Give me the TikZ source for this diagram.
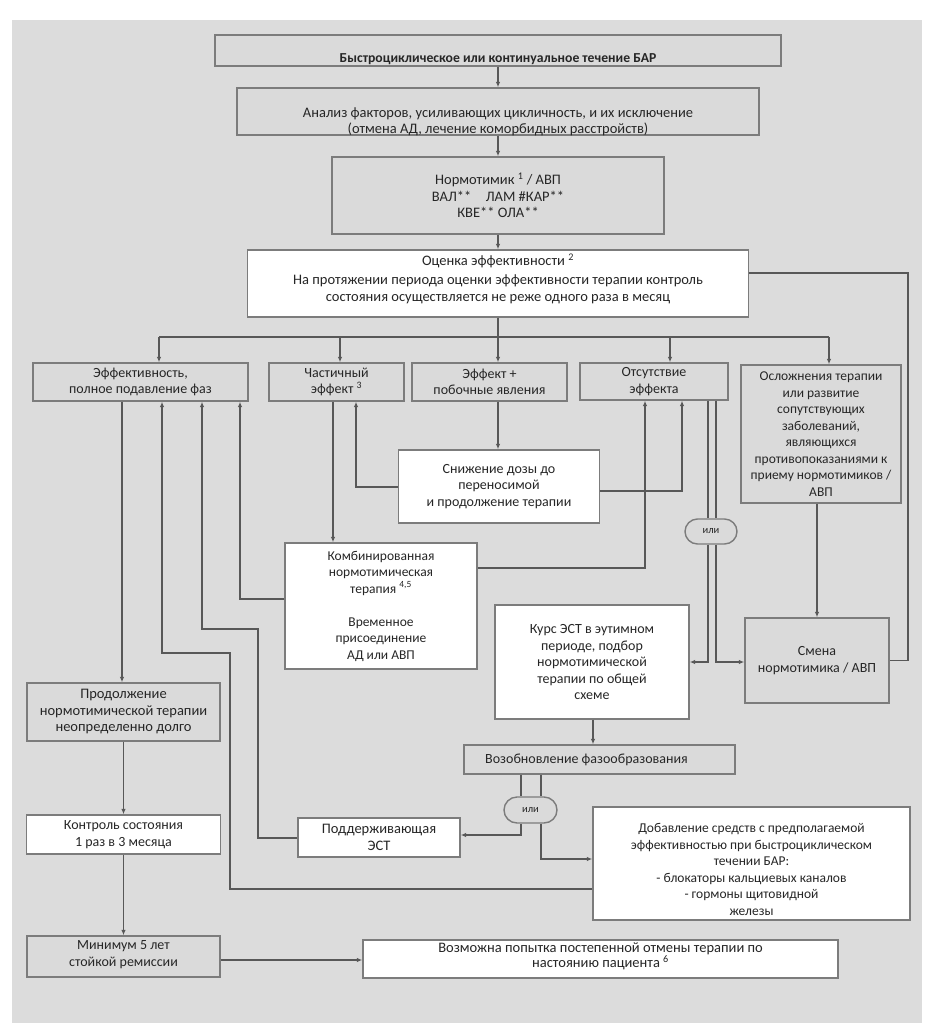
\documentclass[tikz,border=0pt]{standalone}
\usepackage{fontspec}
\setmainfont{Carlito}
\usetikzlibrary{arrows.meta,shapes.misc}
\definecolor{bgc}{HTML}{DCDCDC}
\definecolor{boxg}{HTML}{DADADA}
\definecolor{bordc}{HTML}{7C7C7C}
\definecolor{linec}{HTML}{585858}
\definecolor{txtc}{HTML}{262626}
\newcommand\mainfs{\fontsize{14}{16.5}\selectfont}
\newcommand\bigfs{\fontsize{14.5}{16.5}\selectfont}
\newcommand\smfs{\fontsize{13.5}{16.5}\selectfont}
\newcommand\TopStr[1]{\rule{0pt}{#1pt}}
\newcommand\BotStr[1]{\rule[-#1pt]{0pt}{#1pt}}
\tikzset{
  basebox/.style={draw=bordc, line width=1.4pt, align=center, inner sep=0pt, font=\mainfs, text=txtc},
  gbox/.style={basebox, fill=boxg},
  wbox/.style={basebox, fill=white},
  ovalbox/.style={rounded rectangle, draw=bordc, fill=boxg, line width=1.4pt, inner sep=0pt, font=\fontsize{10.5}{12}\selectfont, text=txtc},
  conn/.style={draw=linec, line width=1.1pt},
  arr/.style={conn, -{Latex[length=5.5pt,width=4.5pt]}},
}
\begin{document}
\begin{tikzpicture}[x=1pt,y=-1pt]
\useasboundingbox (0,0) rectangle (934,1028);
\fill[white] (0,0) rectangle (934,1028);
\fill[bgc] (12,20) rectangle (922,1023);

% top chain
\node[gbox, minimum width=566pt, minimum height=31pt, font=\fontsize{13.7}{16.5}\selectfont\bfseries] (b1) at (498,50.5)
  {\TopStr{23.8}\smash{Быстроциклическое или континуальное течение БАР}};
\node[gbox, minimum width=522pt, minimum height=47pt, font=\bigfs] (b2) at (498,111.5)
  {\TopStr{28.3}Анализ факторов, усиливающих цикличность, и их исключение\\\smash{(отмена АД, лечение коморбидных расстройств)}};
\node[gbox, minimum width=332pt, minimum height=77pt, font=\bigfs] (b3) at (498,195.5)
  {Нормотимик \textsuperscript{1} / АВП\\ВАЛ**\quad ЛАМ \#КАР**\\КВЕ** ОЛА**};
\node[wbox, minimum width=501pt, minimum height=67pt, font=\bigfs] (b4) at (498,283.5)
  {\TopStr{11.5}Оценка эффективности \textsuperscript{2}\\[2.5pt]На протяжении периода оценки эффективности терапии контроль\\состояния осуществляется не реже одного раза в месяц\BotStr{12.2}};

% outcome row
\node[gbox, minimum width=215pt, minimum height=38pt] (e1) at (140.5,382) {Эффективность,\\полное подавление фаз};
\node[gbox, minimum width=135pt, minimum height=38pt] (e2) at (336.5,382) {Частичный\\эффект \textsuperscript{3}};
\node[gbox, minimum width=155pt, minimum height=38pt] (e3) at (489.5,382) {Эффект +\\побочные явления};
\node[gbox, minimum width=148pt, minimum height=37pt] (e4) at (654,381.5) {Отсутствие\\эффекта};
\node[gbox, minimum width=160pt, minimum height=138pt, font=\smfs] (e5) at (821,434)
  {Осложнения терапии\\или развитие\\сопутствующих\\заболеваний,\\являющихся\\противопоказаниями к\\приему нормотимиков /\\АВП};

% middle
\node[wbox, minimum width=201pt, minimum height=73pt] (sn) at (499,486.5) {Снижение дозы до\\переносимой\\и продолжение терапии};
\node[wbox, minimum width=192pt, minimum height=126pt, font=\smfs] (kb) at (381,606)
  {Комбинированная\\нормотимическая\\терапия \textsuperscript{4,5}\\[16.5pt]Временное\\присоединение\\АД или АВП};
\node[ovalbox, minimum width=52pt, minimum height=25pt] (o1) at (711,531.5) {или};
\node[wbox, minimum width=194pt, minimum height=114pt] (ks) at (592,662)
  {Курс ЭСТ в эутимном\\периоде, подбор\\нормотимической\\терапии по общей\\схеме};
\node[gbox, minimum width=144pt, minimum height=85pt] (sm) at (817,660.5) {Смена\\нормотимика / АВП};
\node[gbox, minimum width=271pt, minimum height=29pt] (vz) at (599.5,759.5) {Возобновление фазообразования\hspace*{26pt}};
\node[ovalbox, minimum width=53pt, minimum height=26pt] (o2) at (530.5,810) {или};
\node[wbox, minimum width=162pt, minimum height=39pt, font=\bigfs] (pd) at (379,837.5) {Поддерживающая\\ЭСТ};
\node[wbox, minimum width=317pt, minimum height=113pt, font=\smfs] (db) at (751.5,863.5)
  {\TopStr{21.8}Добавление средств с предполагаемой\\эффективностью при быстроциклическом\\течении БАР:\\- блокаторы кальциевых каналов\\- гормоны щитовидной\\железы\BotStr{1}};

% left column
\node[gbox, minimum width=193pt, minimum height=58pt, font=\bigfs] (p1) at (123.5,712) {Продолжение\\нормотимической терапии\\неопределенно долго};
\node[wbox, minimum width=194pt, minimum height=39pt] (k1) at (123.5,834.5) {Контроль состояния\\1 раз в 3 месяца};
\node[gbox, minimum width=193pt, minimum height=41pt] (m1) at (123.5,956.5) {\TopStr{11.5}Минимум 5 лет\\стойкой ремиссии\BotStr{8.5}};
\node[wbox, minimum width=475pt, minimum height=38pt, font=\bigfs] (v1) at (600.5,959)
  {\TopStr{11.5}Возможна попытка постепенной отмены терапии по\\[-1.5pt]настоянию пациента \textsuperscript{6}\BotStr{9.2}};

% coordinates for routing
\coordinate (c498) at (498,0);
\coordinate (d1) at (159,337);
\coordinate (d2) at (340,337);
\coordinate (d4) at (670,337);
\coordinate (d5) at (829,337);
\coordinate (rt) at (908,273);
\coordinate (c122) at (122,0);
\coordinate (r960) at (0,960);
\coordinate (q1) at (356,487);
\coordinate (q2) at (682,491);
\coordinate (q3) at (333,0);
\coordinate (q4) at (240,599);
\coordinate (q5) at (645,568);
\coordinate (q6) at (708,0);
\coordinate (q7) at (716,0);
\coordinate (q8) at (708,662);
\coordinate (q9) at (716,662);
\coordinate (q10) at (817,0);
\coordinate (q11) at (593,0);
\coordinate (q12) at (521,0);
\coordinate (q13) at (541,0);
\coordinate (q14) at (521,835);
\coordinate (q15) at (541,859);
\coordinate (q16) at (258,838);
\coordinate (q17) at (202,629);
\coordinate (q18) at (230,889);
\coordinate (q19) at (162,653);

% connectors
\draw[arr] (b1) -- (b2);
\draw[arr] (b2) -- (b3);
\draw[arr] (b3) -- (b4);
\draw[conn] (rt -| b4.east) -- (rt) -- (rt |- sm.east) -- (sm.east);
\draw[arr] (b4.south -| c498) -- (c498 |- e3.north);
\draw[conn] (d1) -- (d5);
\draw[arr] (d1) -- (d1 |- e1.north);
\draw[arr] (d2) -- (d2 |- e2.north);
\draw[arr] (d4) -- (d4 |- e4.north);
\draw[arr] (d5) -- (d5 |- e5.north);

\draw[arr] (e3.south -| c498) -- (c498 |- sn.north);
\draw[arr] (q1 -| sn.west) -- (q1) -- (q1 |- e2.south);
\draw[arr] (q2 -| sn.east) -- (q2) -- (q2 |- e4.south);
\draw[arr] (e2.south -| q3) -- (q3 |- kb.north);
\draw[arr] (q4 -| kb.west) -- (q4) -- (q4 |- e1.south);
\draw[arr] (q5 -| kb.east) -- (q5) -- (q5 |- e4.south);

\draw[conn] (e4.south -| q6) -- (q6 |- o1.north);
\draw[conn] (e4.south -| q7) -- (q7 |- o1.north);
\draw[arr] (o1.south -| q8) -- (q8) -- (q8 -| ks.east);
\draw[arr] (o1.south -| q9) -- (q9) -- (q9 -| sm.west);
\draw[arr] (e5.south -| q10) -- (q10 |- sm.north);

\draw[arr] (ks.south -| q11) -- (q11 |- vz.north);
\draw[conn] (vz.south -| q12) -- (q12 |- o2.north);
\draw[conn] (vz.south -| q13) -- (q13 |- o2.north);
\draw[arr] (o2.south -| q14) -- (q14) -- (q14 -| pd.east);
\draw[arr] (o2.south -| q15) -- (q15) -- (q15 -| db.west);
\draw[arr] (q16 -| pd.west) -- (q16) -- (q16 |- q17) -- (q17) -- (q17 |- e1.south);
\draw[arr] (q18 -| db.west) -- (q18) -- (q18 |- q19) -- (q19) -- (q19 |- e1.south);

\draw[arr] (e1.south -| c122) -- (c122 |- p1.north);
\draw[arr] (p1) -- (k1);
\draw[arr] (k1) -- (m1);
\draw[arr] (m1.east |- r960) -- (v1.west |- r960);
\end{tikzpicture}
\end{document}
